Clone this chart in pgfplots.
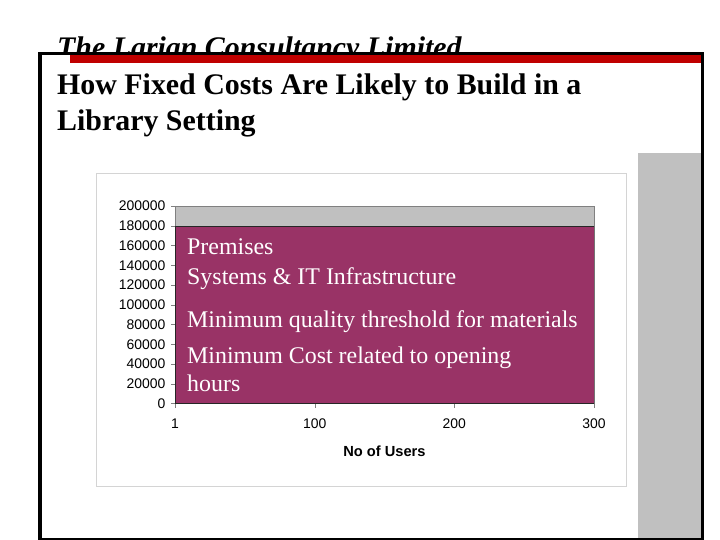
\documentclass[border=0pt]{standalone}
\usepackage{pgfplots}
\pgfplotsset{compat=1.18}
\usepackage{fontspec}
\setmainfont{Liberation Serif}
\newfontfamily\arial{Liberation Sans}

\definecolor{plum}{HTML}{993366}
\definecolor{xlgray}{HTML}{C0C0C0}
\definecolor{slidered}{HTML}{C00000}
\definecolor{boxgray}{HTML}{D4D4D4}

\begin{document}
\begin{tikzpicture}[x=1bp,y=1bp]
\useasboundingbox (0,0) rectangle (720,-540);
\fill[white] (0,0) rectangle (720,-540);

% slide header
\node[anchor=base west, inner sep=0, font=\bfseries\itshape\fontsize{30}{36}\selectfont]
  at (57,-58) {The Larian Consultancy Limited};
\fill[white] (40,-53.5) rectangle (702.5,-540);
\fill[slidered] (70,-55.5) rectangle (703,-63.5);
\draw[line width=3.5bp] (40,-540) -- (40,-53.5) -- (702.5,-53.5) -- (702.5,-540);
\draw[line width=3bp] (40,-539) -- (702.5,-539);
\fill[xlgray] (638,-153) rectangle (701,-537.5);

\node[anchor=base west, inner sep=0, font=\bfseries\fontsize{30}{36}\selectfont]
  at (57,-95) {How Fixed Costs Are Likely to Build in a};
\node[anchor=base west, inner sep=0, font=\bfseries\fontsize{30}{36}\selectfont]
  at (57,-131) {Library Setting};

% chart box
\draw[boxgray, fill=white, line width=1bp] (96.5,-174) rectangle (626.5,-486);

\begin{axis}[
    at={(175bp,-403.5bp)}, anchor=south west,
    width=419bp, height=197.5bp, scale only axis,
    xmin=0, xmax=3, ymin=0, ymax=200000,
    axis x line*=bottom, axis y line*=left,
    axis line style={draw=gray},
    axis background/.style={fill=xlgray, draw=gray},
    xtick={0,1,2,3}, xticklabels={1,100,200,300},
    ytick={0,20000,...,200000},
    scaled y ticks=false,
    tick align=outside, major tick length=4bp,
    tick style={draw=gray},
    /pgf/number format/assume math mode=true,
    yticklabel style={/pgf/number format/fixed, /pgf/number format/1000 sep={}, xshift=-2bp},
    ticklabel style={font=\arial\fontsize{14}{16}\selectfont},
    xticklabel style={yshift=-8bp},
    xlabel={No of Users},
    xlabel style={font=\arial\bfseries\fontsize{14.7}{17}\selectfont, yshift=-10bp},
]
\addplot[fill=plum, draw=black!85, line width=0.8bp] coordinates {(0,179000) (3,179000)} \closedcycle;
\end{axis}

\begin{scope}[every node/.style={anchor=base west, inner sep=0, text=white, font=\fontsize{24}{28}\selectfont}]
\node at (187,-255) {Premises};
\node at (187,-285) {Systems \& IT Infrastructure};
\node at (187,-327) {Minimum quality threshold for materials};
\node at (187,-363) {Minimum Cost related to opening};
\node at (187,-391) {hours};
\end{scope}
\end{tikzpicture}
\end{document}
